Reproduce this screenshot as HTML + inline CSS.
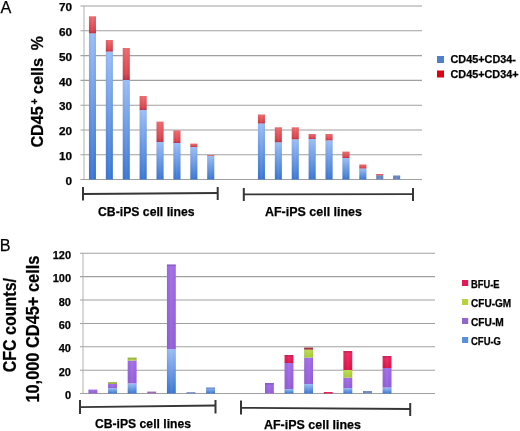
<!DOCTYPE html>
<html><head><meta charset="utf-8"><title>CD45 / CFC chart</title>
<style>
html,body{margin:0;padding:0;background:#fff;}
body{width:520px;height:431px;overflow:hidden;}
svg{display:block;font-family:"Liberation Sans", sans-serif;filter:blur(0.35px);}
text{fill:#000;stroke:#000;stroke-width:0.25px;}
</style></head>
<body>
<svg width="520" height="431" viewBox="0 0 520 431" font-family='"Liberation Sans", sans-serif'>

<defs>
 <linearGradient id="gB" x1="0" y1="0" x2="0" y2="1">
  <stop offset="0" stop-color="#98bcf6"/>
  <stop offset="1" stop-color="#3774d2"/>
 </linearGradient>
 <linearGradient id="gR" x1="0" y1="0" x2="0" y2="1">
  <stop offset="0" stop-color="#ec686a"/>
  <stop offset="0.8" stop-color="#da424c"/>
  <stop offset="1" stop-color="#b42e44"/>
 </linearGradient>
 <linearGradient id="gP" x1="0" y1="0" x2="0" y2="1">
  <stop offset="0" stop-color="#a06ae6"/>
  <stop offset="1" stop-color="#925cd8"/>
 </linearGradient>
 <linearGradient id="gG" x1="0" y1="0" x2="0" y2="1">
  <stop offset="0" stop-color="#bcdc48"/>
  <stop offset="1" stop-color="#a4c838"/>
 </linearGradient>
 <linearGradient id="gH" x1="0" y1="0" x2="1" y2="0">
  <stop offset="0" stop-color="#101030" stop-opacity="0.12"/>
  <stop offset="0.2" stop-color="#ffffff" stop-opacity="0"/>
  <stop offset="0.5" stop-color="#ffffff" stop-opacity="0.07"/>
  <stop offset="0.8" stop-color="#ffffff" stop-opacity="0"/>
  <stop offset="1" stop-color="#101030" stop-opacity="0.12"/>
 </linearGradient>
 <linearGradient id="gE" x1="0" y1="0" x2="0" y2="1">
  <stop offset="0" stop-color="#f0285e"/>
  <stop offset="1" stop-color="#dc1048"/>
 </linearGradient>
</defs>

<line x1="80.5" y1="179.50" x2="422.0" y2="179.50" stroke="#a0a0a0" stroke-width="1.05"/>
<line x1="80.5" y1="154.72" x2="422.0" y2="154.72" stroke="#a0a0a0" stroke-width="1.05"/>
<line x1="80.5" y1="129.94" x2="422.0" y2="129.94" stroke="#a0a0a0" stroke-width="1.05"/>
<line x1="80.5" y1="105.16" x2="422.0" y2="105.16" stroke="#a0a0a0" stroke-width="1.05"/>
<line x1="80.5" y1="80.38" x2="422.0" y2="80.38" stroke="#a0a0a0" stroke-width="1.05"/>
<line x1="80.5" y1="55.60" x2="422.0" y2="55.60" stroke="#a0a0a0" stroke-width="1.05"/>
<line x1="80.5" y1="30.82" x2="422.0" y2="30.82" stroke="#a0a0a0" stroke-width="1.05"/>
<line x1="80.5" y1="6.04" x2="422.0" y2="6.04" stroke="#a0a0a0" stroke-width="1.05"/>
<line x1="84.0" y1="6.04" x2="84.0" y2="179.50" stroke="#a8a8a8" stroke-width="0.9"/>
<text x="72" y="184.80" text-anchor="end" font-size="11.8" font-weight="bold">0</text>
<text x="72" y="160.02" text-anchor="end" font-size="11.8" font-weight="bold">10</text>
<text x="72" y="135.24" text-anchor="end" font-size="11.8" font-weight="bold">20</text>
<text x="72" y="110.46" text-anchor="end" font-size="11.8" font-weight="bold">30</text>
<text x="72" y="85.68" text-anchor="end" font-size="11.8" font-weight="bold">40</text>
<text x="72" y="60.90" text-anchor="end" font-size="11.8" font-weight="bold">50</text>
<text x="72" y="36.12" text-anchor="end" font-size="11.8" font-weight="bold">60</text>
<text x="72" y="11.34" text-anchor="end" font-size="11.8" font-weight="bold">70</text>
<rect x="88.95" y="33.40" width="7.0" height="146.10" fill="url(#gB)"/>
<rect x="88.95" y="16.30" width="7.0" height="17.10" fill="url(#gR)"/>
<rect x="88.95" y="16.30" width="7.0" height="163.20" fill="url(#gH)"/>
<rect x="105.85" y="51.60" width="7.0" height="127.90" fill="url(#gB)"/>
<rect x="105.85" y="40.00" width="7.0" height="11.60" fill="url(#gR)"/>
<rect x="105.85" y="40.00" width="7.0" height="139.50" fill="url(#gH)"/>
<rect x="122.75" y="80.00" width="7.0" height="99.50" fill="url(#gB)"/>
<rect x="122.75" y="48.00" width="7.0" height="32.00" fill="url(#gR)"/>
<rect x="122.75" y="48.00" width="7.0" height="131.50" fill="url(#gH)"/>
<rect x="139.65" y="110.00" width="7.0" height="69.50" fill="url(#gB)"/>
<rect x="139.65" y="96.00" width="7.0" height="14.00" fill="url(#gR)"/>
<rect x="139.65" y="96.00" width="7.0" height="83.50" fill="url(#gH)"/>
<rect x="156.55" y="142.00" width="7.0" height="37.50" fill="url(#gB)"/>
<rect x="156.55" y="121.60" width="7.0" height="20.40" fill="url(#gR)"/>
<rect x="156.55" y="121.60" width="7.0" height="57.90" fill="url(#gH)"/>
<rect x="173.45" y="143.00" width="7.0" height="36.50" fill="url(#gB)"/>
<rect x="173.45" y="130.40" width="7.0" height="12.60" fill="url(#gR)"/>
<rect x="173.45" y="130.40" width="7.0" height="49.10" fill="url(#gH)"/>
<rect x="190.35" y="147.00" width="7.0" height="32.50" fill="url(#gB)"/>
<rect x="190.35" y="143.60" width="7.0" height="3.40" fill="url(#gR)"/>
<rect x="190.35" y="143.60" width="7.0" height="35.90" fill="url(#gH)"/>
<rect x="207.25" y="155.80" width="7.0" height="23.70" fill="url(#gB)"/>
<rect x="207.25" y="155.00" width="7.0" height="0.80" fill="url(#gR)"/>
<rect x="207.25" y="155.00" width="7.0" height="24.50" fill="url(#gH)"/>
<rect x="257.95" y="123.50" width="7.0" height="56.00" fill="url(#gB)"/>
<rect x="257.95" y="114.50" width="7.0" height="9.00" fill="url(#gR)"/>
<rect x="257.95" y="114.50" width="7.0" height="65.00" fill="url(#gH)"/>
<rect x="274.85" y="142.30" width="7.0" height="37.20" fill="url(#gB)"/>
<rect x="274.85" y="127.30" width="7.0" height="15.00" fill="url(#gR)"/>
<rect x="274.85" y="127.30" width="7.0" height="52.20" fill="url(#gH)"/>
<rect x="291.75" y="139.30" width="7.0" height="40.20" fill="url(#gB)"/>
<rect x="291.75" y="127.30" width="7.0" height="12.00" fill="url(#gR)"/>
<rect x="291.75" y="127.30" width="7.0" height="52.20" fill="url(#gH)"/>
<rect x="308.65" y="139.00" width="7.0" height="40.50" fill="url(#gB)"/>
<rect x="308.65" y="134.00" width="7.0" height="5.00" fill="url(#gR)"/>
<rect x="308.65" y="134.00" width="7.0" height="45.50" fill="url(#gH)"/>
<rect x="325.55" y="140.40" width="7.0" height="39.10" fill="url(#gB)"/>
<rect x="325.55" y="134.00" width="7.0" height="6.40" fill="url(#gR)"/>
<rect x="325.55" y="134.00" width="7.0" height="45.50" fill="url(#gH)"/>
<rect x="342.45" y="158.00" width="7.0" height="21.50" fill="url(#gB)"/>
<rect x="342.45" y="151.60" width="7.0" height="6.40" fill="url(#gR)"/>
<rect x="342.45" y="151.60" width="7.0" height="27.90" fill="url(#gH)"/>
<rect x="359.35" y="168.50" width="7.0" height="11.00" fill="url(#gB)"/>
<rect x="359.35" y="164.50" width="7.0" height="4.00" fill="url(#gR)"/>
<rect x="359.35" y="164.50" width="7.0" height="15.00" fill="url(#gH)"/>
<rect x="376.25" y="175.40" width="7.0" height="4.10" fill="#6684bf"/>
<rect x="376.25" y="174.00" width="7.0" height="1.40" fill="url(#gR)"/>
<rect x="376.25" y="174.00" width="7.0" height="5.50" fill="url(#gH)"/>
<rect x="393.15" y="175.50" width="7.0" height="4.00" fill="#6684bf"/>
<rect x="393.15" y="175.50" width="7.0" height="4.00" fill="url(#gH)"/>
<rect x="437" y="56" width="7" height="7" fill="#4f81c9"/>
<rect x="437" y="70.5" width="7" height="7" fill="#e00010"/>
<text x="450.5" y="63.3" font-size="10.5" font-weight="bold" textLength="65.5" lengthAdjust="spacingAndGlyphs">CD45+CD34-</text>
<text x="450.5" y="78" font-size="10.5" font-weight="bold" textLength="68" lengthAdjust="spacingAndGlyphs">CD45+CD34+</text>
<text x="0.6" y="12.6" font-size="16.2">A</text>
<text transform="translate(43.3,147.6) rotate(-90)" font-size="17" font-weight="bold" textLength="41.5" lengthAdjust="spacingAndGlyphs">CD45</text>
<text transform="translate(38.4,104.6) rotate(-90)" font-size="11.5" font-weight="bold" textLength="6" lengthAdjust="spacingAndGlyphs" stroke="#000" stroke-width="0.5">+</text>
<text transform="translate(43.3,94.2) rotate(-90)" font-size="17" font-weight="bold" textLength="36.4" lengthAdjust="spacingAndGlyphs">cells</text>
<text transform="translate(43.3,50.3) rotate(-90)" font-size="17" font-weight="bold" textLength="14.2" lengthAdjust="spacingAndGlyphs">%</text>
<line x1="83" y1="194" x2="217.7" y2="193" stroke="#363636" stroke-width="1.8"/>
<line x1="83" y1="187" x2="83" y2="200.5" stroke="#363636" stroke-width="2"/>
<line x1="217.7" y1="187" x2="217.7" y2="200" stroke="#363636" stroke-width="2"/>
<line x1="243.8" y1="194.3" x2="413" y2="194.2" stroke="#363636" stroke-width="1.8"/>
<line x1="243.8" y1="188" x2="243.8" y2="201" stroke="#363636" stroke-width="2"/>
<line x1="413" y1="188" x2="413" y2="201" stroke="#363636" stroke-width="2"/>
<text x="98" y="215.6" font-size="12.8" font-weight="bold" textLength="96.5" lengthAdjust="spacingAndGlyphs">CB-iPS cell lines</text>
<text x="265" y="216" font-size="12.8" font-weight="bold" textLength="97" lengthAdjust="spacingAndGlyphs">AF-iPS cell lines</text>
<line x1="80" y1="393.55" x2="435.0" y2="393.55" stroke="#a0a0a0" stroke-width="1.05"/>
<line x1="80" y1="370.17" x2="435.0" y2="370.17" stroke="#a0a0a0" stroke-width="1.05"/>
<line x1="80" y1="346.79" x2="435.0" y2="346.79" stroke="#a0a0a0" stroke-width="1.05"/>
<line x1="80" y1="323.40" x2="435.0" y2="323.40" stroke="#a0a0a0" stroke-width="1.05"/>
<line x1="80" y1="300.02" x2="435.0" y2="300.02" stroke="#a0a0a0" stroke-width="1.05"/>
<line x1="80" y1="276.64" x2="435.0" y2="276.64" stroke="#a0a0a0" stroke-width="1.05"/>
<line x1="80" y1="253.26" x2="435.0" y2="253.26" stroke="#a0a0a0" stroke-width="1.05"/>
<line x1="83.0" y1="253.26" x2="83.0" y2="393.55" stroke="#a8a8a8" stroke-width="0.9"/>
<text x="71" y="399.25" text-anchor="end" font-size="11" font-weight="bold">0</text>
<text x="71" y="375.87" text-anchor="end" font-size="11" font-weight="bold">20</text>
<text x="71" y="352.49" text-anchor="end" font-size="11" font-weight="bold">40</text>
<text x="71" y="329.10" text-anchor="end" font-size="11" font-weight="bold">60</text>
<text x="71" y="305.72" text-anchor="end" font-size="11" font-weight="bold">80</text>
<text x="71" y="282.34" text-anchor="end" font-size="11" font-weight="bold">100</text>
<text x="71" y="258.96" text-anchor="end" font-size="11" font-weight="bold">120</text>
<rect x="88.50" y="389.60" width="8.8" height="3.95" fill="url(#gP)"/>
<rect x="88.50" y="389.60" width="8.8" height="3.95" fill="url(#gH)"/>
<rect x="108.11" y="388.00" width="8.8" height="5.55" fill="url(#gB)"/>
<rect x="108.11" y="384.00" width="8.8" height="4.00" fill="url(#gP)"/>
<rect x="108.11" y="382.10" width="8.8" height="1.90" fill="url(#gG)"/>
<rect x="108.11" y="382.10" width="8.8" height="11.45" fill="url(#gH)"/>
<rect x="108.11" y="382.10" width="8.8" height="1.6" fill="#201040" fill-opacity="0.18"/>
<rect x="127.72" y="383.40" width="8.8" height="10.15" fill="url(#gB)"/>
<rect x="127.72" y="360.60" width="8.8" height="22.80" fill="url(#gP)"/>
<rect x="127.72" y="357.60" width="8.8" height="3.00" fill="url(#gG)"/>
<rect x="127.72" y="357.60" width="8.8" height="35.95" fill="url(#gH)"/>
<rect x="127.72" y="357.60" width="8.8" height="1.6" fill="#201040" fill-opacity="0.18"/>
<rect x="147.33" y="391.60" width="8.8" height="1.95" fill="#9a6ab0"/>
<rect x="147.33" y="391.60" width="8.8" height="1.95" fill="url(#gH)"/>
<rect x="166.94" y="349.20" width="8.8" height="44.35" fill="url(#gB)"/>
<rect x="166.94" y="264.50" width="8.8" height="84.70" fill="url(#gP)"/>
<rect x="166.94" y="264.50" width="8.8" height="129.05" fill="url(#gH)"/>
<rect x="166.94" y="264.50" width="8.8" height="1.6" fill="#201040" fill-opacity="0.18"/>
<rect x="186.55" y="392.20" width="8.8" height="1.35" fill="#6684bf"/>
<rect x="186.55" y="392.20" width="8.8" height="1.35" fill="url(#gH)"/>
<rect x="206.16" y="387.40" width="8.8" height="6.15" fill="url(#gB)"/>
<rect x="206.16" y="387.40" width="8.8" height="6.15" fill="url(#gH)"/>
<rect x="206.16" y="387.40" width="8.8" height="1.6" fill="#201040" fill-opacity="0.18"/>
<rect x="264.99" y="383.00" width="8.8" height="10.55" fill="url(#gP)"/>
<rect x="264.99" y="383.00" width="8.8" height="10.55" fill="url(#gH)"/>
<rect x="264.99" y="383.00" width="8.8" height="1.6" fill="#201040" fill-opacity="0.18"/>
<rect x="284.60" y="389.00" width="8.8" height="4.55" fill="url(#gB)"/>
<rect x="284.60" y="363.00" width="8.8" height="26.00" fill="url(#gP)"/>
<rect x="284.60" y="355.00" width="8.8" height="8.00" fill="url(#gE)"/>
<rect x="284.60" y="355.00" width="8.8" height="38.55" fill="url(#gH)"/>
<rect x="284.60" y="355.00" width="8.8" height="1.6" fill="#201040" fill-opacity="0.18"/>
<rect x="304.21" y="384.00" width="8.8" height="9.55" fill="url(#gB)"/>
<rect x="304.21" y="357.60" width="8.8" height="26.40" fill="url(#gP)"/>
<rect x="304.21" y="349.70" width="8.8" height="7.90" fill="url(#gG)"/>
<rect x="304.21" y="347.60" width="8.8" height="2.10" fill="#b83a3a"/>
<rect x="304.21" y="347.60" width="8.8" height="45.95" fill="url(#gH)"/>
<rect x="304.21" y="347.60" width="8.8" height="1.6" fill="#201040" fill-opacity="0.18"/>
<rect x="323.82" y="392.00" width="8.8" height="1.55" fill="url(#gE)"/>
<rect x="323.82" y="392.00" width="8.8" height="1.55" fill="url(#gH)"/>
<rect x="343.43" y="388.00" width="8.8" height="5.55" fill="url(#gB)"/>
<rect x="343.43" y="377.60" width="8.8" height="10.40" fill="url(#gP)"/>
<rect x="343.43" y="370.00" width="8.8" height="7.60" fill="url(#gG)"/>
<rect x="343.43" y="351.00" width="8.8" height="19.00" fill="url(#gE)"/>
<rect x="343.43" y="351.00" width="8.8" height="42.55" fill="url(#gH)"/>
<rect x="343.43" y="351.00" width="8.8" height="1.6" fill="#201040" fill-opacity="0.18"/>
<rect x="363.04" y="391.00" width="8.8" height="2.55" fill="#7088bc"/>
<rect x="363.04" y="391.00" width="8.8" height="2.55" fill="url(#gH)"/>
<rect x="382.65" y="387.60" width="8.8" height="5.95" fill="url(#gB)"/>
<rect x="382.65" y="368.00" width="8.8" height="19.60" fill="url(#gP)"/>
<rect x="382.65" y="356.00" width="8.8" height="12.00" fill="url(#gE)"/>
<rect x="382.65" y="356.00" width="8.8" height="37.55" fill="url(#gH)"/>
<rect x="382.65" y="356.00" width="8.8" height="1.6" fill="#201040" fill-opacity="0.18"/>
<rect x="462" y="280" width="6.2" height="6" fill="#e01a55"/>
<text x="471" y="288.0" font-size="10" font-weight="bold" textLength="28.5" lengthAdjust="spacingAndGlyphs">BFU-E</text>
<rect x="462" y="299" width="6.2" height="6" fill="#b8d040"/>
<text x="471" y="306.5" font-size="10" font-weight="bold" textLength="40.2" lengthAdjust="spacingAndGlyphs">CFU-GM</text>
<rect x="462" y="318" width="6.2" height="6" fill="#9068cc"/>
<text x="471" y="325.6" font-size="10" font-weight="bold" textLength="32.8" lengthAdjust="spacingAndGlyphs">CFU-M</text>
<rect x="462" y="337" width="6.2" height="6" fill="#5b8fd8"/>
<text x="471" y="344.5" font-size="10" font-weight="bold" textLength="30" lengthAdjust="spacingAndGlyphs">CFU-G</text>
<text x="-0.3" y="251" font-size="16.2">B</text>
<text transform="translate(15.7,372.3) rotate(-90)" font-size="17.5" font-weight="bold" textLength="94.3" lengthAdjust="spacingAndGlyphs">CFC counts/</text>
<text transform="translate(38.7,402.6) rotate(-90)" font-size="17.5" font-weight="bold" textLength="147" lengthAdjust="spacingAndGlyphs">10,000 CD45+ cells</text>
<line x1="80" y1="407.2" x2="215.5" y2="405.5" stroke="#363636" stroke-width="1.8"/>
<line x1="80" y1="400" x2="80" y2="414" stroke="#363636" stroke-width="2"/>
<line x1="215.5" y1="400" x2="215.5" y2="413.5" stroke="#363636" stroke-width="2"/>
<line x1="241" y1="407.8" x2="410.2" y2="409" stroke="#363636" stroke-width="1.8"/>
<line x1="241" y1="400.5" x2="241" y2="414.5" stroke="#363636" stroke-width="2"/>
<line x1="410.2" y1="403" x2="410.2" y2="416" stroke="#363636" stroke-width="2"/>
<text x="95" y="428.4" font-size="12.8" font-weight="bold" textLength="96" lengthAdjust="spacingAndGlyphs">CB-iPS cell lines</text>
<text x="264" y="428.8" font-size="12.8" font-weight="bold" textLength="97" lengthAdjust="spacingAndGlyphs">AF-iPS cell lines</text>
</svg>
</body></html>
